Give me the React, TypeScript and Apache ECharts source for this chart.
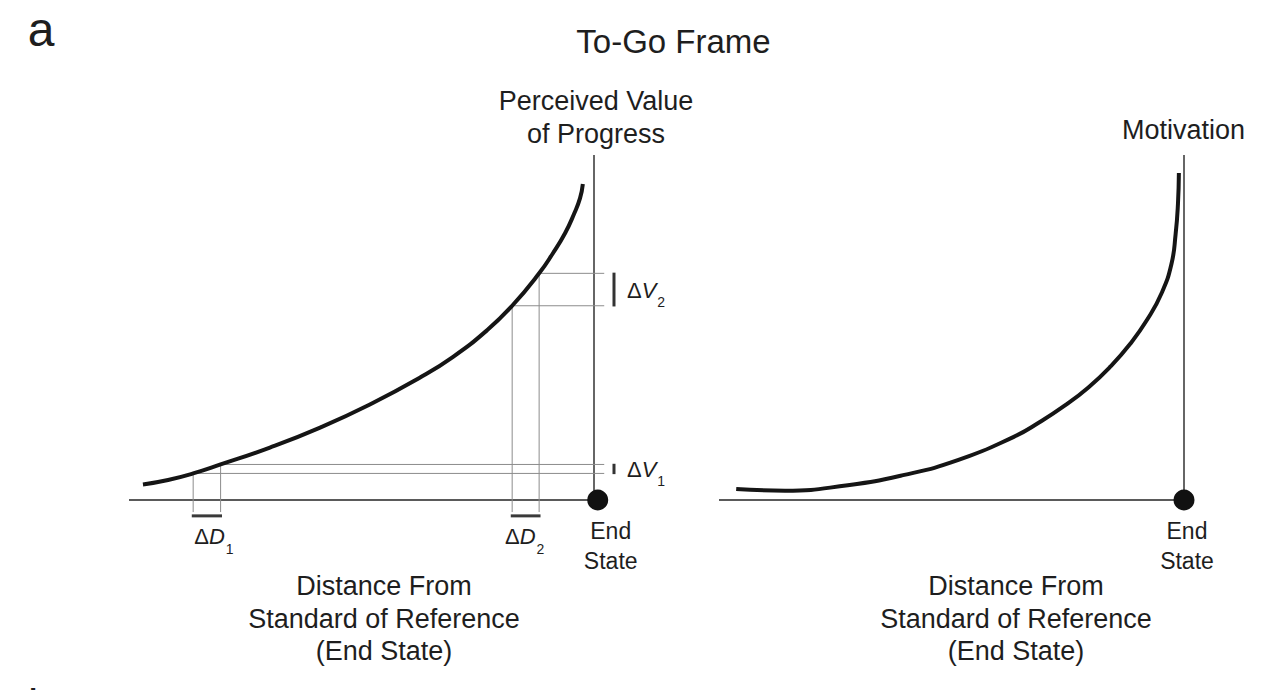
import React, { useEffect, useRef } from "react";
import * as echarts from "echarts";

// ---------- data (distance from end state: 0 = End State, 100 = far away) ----------
// Left panel: perceived value of progress along the To-Go frame
const leftDistance = [97.0, 91.6, 86.2, 80.3, 69.7, 58.9, 48.2, 37.4, 30.3, 23.0, 17.6, 11.8, 8.8, 6.2, 4.3, 3.0, 2.4];
const leftValue = [4.5, 5.8, 7.7, 10.3, 15.2, 21.0, 27.7, 35.5, 41.5, 49.2, 56.3, 65.7, 71.6, 77.4, 82.9, 87.5, 91.6];

// Right panel: motivation along the same distance
const rightDistance = [96.3, 85.8, 72.3, 60.4, 48.5, 36.6, 31.0, 25.6, 20.5, 15.8, 11.6, 7.9, 4.8, 2.7, 1.8, 1.3, 1.1];
const rightMotivation = [3.2, 2.7, 4.3, 7.2, 11.6, 18.3, 22.6, 27.4, 32.7, 38.7, 45.2, 52.3, 60.0, 68.4, 77.1, 85.8, 94.8];

// Two equal steps of progress (ΔD1, ΔD2): indices of their start / end points on the left curve
const stepNames = ["1", "2"];
const stepPointIndex = [
  [2, 3],
  [10, 11],
];

// axis extents and annotation levels (data units)
const axisMin = -6;
const axisMax = 100;
const guideEndDistance = -2.2; // guides run a little past the value axis
const guideEndValue = -3.5; // and a little below the distance axis
const deltaDLevel = -4.6;
const deltaVDistance = -4.3;
const leftEndState = -0.8;
const rightEndState = 0;

const FONT = '"Liberation Sans", Arial, Helvetica, sans-serif';
const INK = "#1e1e1e";

export default function App() {
  const ref = useRef<HTMLDivElement>(null);

  useEffect(() => {
    if (!ref.current) return;
    const chart = echarts.init(ref.current, undefined, { renderer: "svg" });

    const seg = (grid: number, a: number[], b: number[], color: string, width: number, z = 2) => ({
      type: "line",
      xAxisIndex: grid,
      yAxisIndex: grid,
      data: [a, b],
      symbol: "none",
      clip: false,
      silent: true,
      lineStyle: { color, width, cap: "butt" },
      z,
    });

    const leftCurve = leftDistance.map((d, i) => [d, leftValue[i]]);
    const rightCurve = rightDistance.map((d, i) => [d, rightMotivation[i]]);

    const series: any[] = [];

    // axes drawn as lines through the grid's scales
    [0, 1].forEach((g) => {
      series.push(seg(g, [axisMax, 0], [0, 0], "#5a5a5a", 2, 1));
      series.push(seg(g, [0, 0], [0, axisMax], "#333333", 1.5, 1));
    });

    stepPointIndex.forEach(([i0, i1]) => {
      const d0 = leftDistance[i0];
      const d1 = leftDistance[i1];
      const v0 = leftValue[i0];
      const v1 = leftValue[i1];
      const guide = "#8c8c8c";
      series.push(seg(0, [d0, v0], [d0, guideEndValue], guide, 1, 1));
      series.push(seg(0, [d1, v1], [d1, guideEndValue], guide, 1, 1));
      series.push(seg(0, [d0, v0], [guideEndDistance, v0], guide, 1, 1));
      series.push(seg(0, [d1, v1], [guideEndDistance, v1], guide, 1, 1));
      // ΔD bar and ΔV bar
      series.push(seg(0, [d0 + 0.3, deltaDLevel], [d1 - 0.3, deltaDLevel], "#3a3a3a", 3, 3));
      series.push(seg(0, [deltaVDistance, v0 - 0.2], [deltaVDistance, v1 + 0.2], "#333333", 3, 3));
    });

    // curves
    [leftCurve, rightCurve].forEach((data, g) =>
      series.push({
        type: "line",
        xAxisIndex: g,
        yAxisIndex: g,
        data,
        smooth: 0.5,
        symbol: "none",
        clip: false,
        silent: true,
        lineStyle: { color: "#151515", width: 4, cap: "butt" },
        z: 5,
      })
    );

    // end state dots
    [leftEndState, rightEndState].forEach((d, g) =>
      series.push({
        type: "scatter",
        xAxisIndex: g,
        yAxisIndex: g,
        clip: false,
        silent: true,
        symbolSize: 21,
        itemStyle: { color: "#111111", opacity: 1 },
        data: [[d, 0]],
        z: 6,
      })
    );

    const axisCommon = {
      type: "value",
      min: axisMin,
      max: axisMax,
      axisLine: { show: false },
      axisTick: { show: false },
      axisLabel: { show: false },
      splitLine: { show: false },
    };

    const txt = (
      text: string,
      x: number,
      y: number,
      fontSize: number,
      lineHeight?: number,
      align = "center",
      verticalAlign = "middle",
      rich?: any
    ) => ({
      type: "text",
      x,
      y,
      silent: true,
      z: 10,
      style: {
        text,
        fontSize,
        lineHeight: lineHeight ?? Math.round(fontSize * 1.2),
        fontFamily: FONT,
        fill: INK,
        align,
        verticalAlign,
        rich,
      },
    });

    const pxW = 4.65 * (axisMax - axisMin);
    const pxH = 3.45 * (axisMax - axisMin);

    chart.setOption({
      animation: false,
      backgroundColor: "#ffffff",
      grid: [
        { left: 129, top: 155, width: pxW, height: pxH },
        { left: 719, top: 155, width: pxW, height: pxH },
      ],
      xAxis: [0, 1].map((g) => ({ ...axisCommon, gridIndex: g, inverse: true })),
      yAxis: [0, 1].map((g) => ({ ...axisCommon, gridIndex: g, position: "right" })),
      series,
    });

    // ---- texts (annotation positions come from the grids' scales) ----
    const P = (g: number, pt: number[]) => chart.convertToPixel({ gridIndex: g }, pt) as number[];

    const subRich = {
      a: { fontSize: 22, lineHeight: 25, verticalAlign: "top", fontFamily: FONT, fill: INK },
      b: { fontSize: 22, lineHeight: 25, verticalAlign: "top", fontStyle: "italic", fontFamily: FONT, fill: INK },
      c: { fontSize: 14, lineHeight: 14, verticalAlign: "top", padding: [16, 0, 0, 1], fontFamily: FONT, fill: INK },
    };

    const graphics: any[] = [
      txt("a", 41, 29.5, 48),
      txt("To-Go Frame", 673.5, 41, 33),
      txt("Perceived Value\nof Progress", 596, 117, 27, 33),
      txt("Motivation", 1183.5, 130, 27),
      txt("Distance From\nStandard of Reference\n(End State)", 384, 618.5, 27, 32.5),
      txt("Distance From\nStandard of Reference\n(End State)", 1016, 618.5, 27, 32.5),
      txt("b", 28, 683, 46, 46, "left", "top"),
    ];

    const dOffsets = [7, -1];
    stepPointIndex.forEach(([i0, i1], k) => {
      const d0 = leftDistance[i0];
      const d1 = leftDistance[i1];
      const v0 = leftValue[i0];
      const v1 = leftValue[i1];
      const pD = P(0, [(d0 + d1) / 2, deltaDLevel]);
      graphics.push(
        txt(`{a|Δ}{b|D}{c|${stepNames[k]}}`, pD[0] + dOffsets[k], pD[1] + 10, 22, 25, "center", "top", subRich)
      );
      const pV = P(0, [deltaVDistance, (v0 + v1) / 2]);
      graphics.push(txt(`{a|Δ}{b|V}{c|${stepNames[k]}}`, pV[0] + 13, pV[1] + 2, 22, 25, "left", "middle", subRich));
    });

    const endOffsets = [13, 3];
    [leftEndState, rightEndState].forEach((d, g) => {
      const p = P(g, [d, 0]);
      graphics.push(txt("End\nState", p[0] + endOffsets[g], p[1] + 15.5, 23, 30, "center", "top"));
    });

    chart.setOption({ graphic: graphics });

    return () => chart.dispose();
  }, []);

  return (
    <div
      ref={ref}
      style={{ position: "fixed", left: 0, top: 0, width: 1280, height: 690, background: "#fff" }}
    />
  );
}
